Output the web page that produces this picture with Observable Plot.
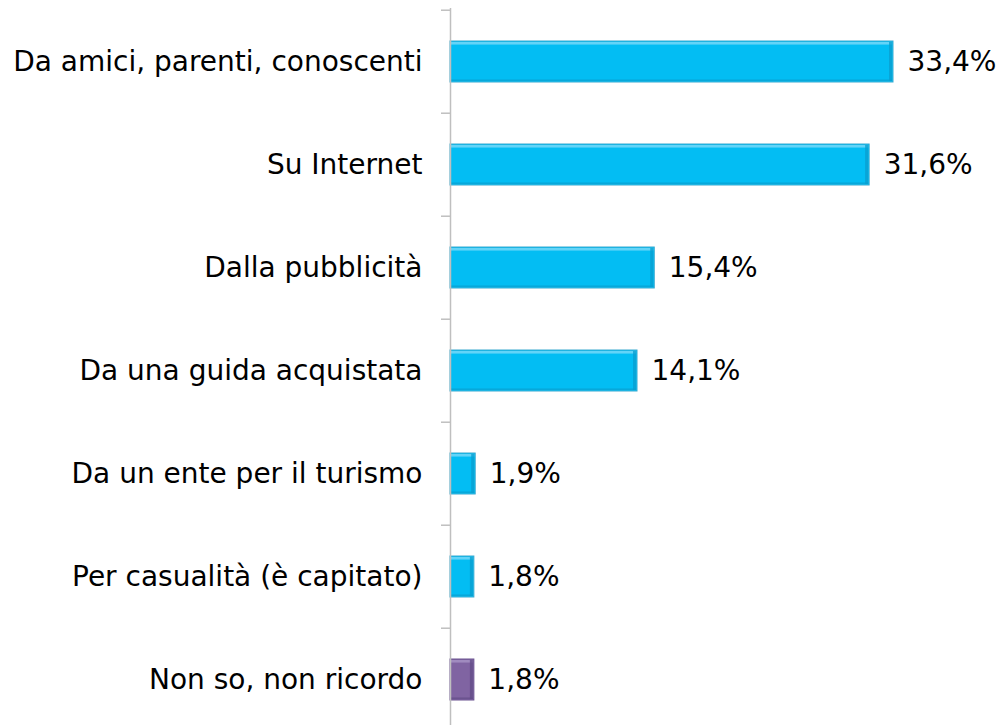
<!DOCTYPE html>
<html>
<head>
<meta charset="utf-8">
<script src="https://cdn.jsdelivr.net/npm/d3@7"></script>
<script src="https://cdn.jsdelivr.net/npm/@observablehq/plot@0.6"></script>
<style>
  html, body { margin: 0; padding: 0; background: #fff; overflow: hidden; }
</style>
</head>
<body>
<div id="chart"></div>
<script>
const categories = [
  "Da amici, parenti, conoscenti",
  "Su Internet",
  "Dalla pubblicità",
  "Da una guida acquistata",
  "Da un ente per il turismo",
  "Per casualità (è capitato)",
  "Non so, non ricordo"
];
const values = [33.4, 31.6, 15.4, 14.1, 1.9, 1.8, 1.8];
const groups = ["main", "main", "main", "main", "main", "main", "other"];

const data = categories.map((c, i) => ({category: c, value: values[i], group: groups[i]}));

const W = 1005, H = 733, mTop = 8, mLeft = 450, mRight = 112;
const step = (H - mTop) / categories.length;
const bw = step * 0.4;
const fmt = v => d3.format(".1f")(v).replace(".", ",") + "%";

const light = {main: "#63D4F8", other: "#A08BBF"};
const dark = {main: "#0A9FCF", other: "#634C88"};

const chart = Plot.plot({
  width: W,
  height: H,
  marginTop: mTop,
  marginBottom: 0,
  marginLeft: mLeft,
  marginRight: mRight,
  style: {fontFamily: "DejaVu Sans, Verdana, sans-serif", fontSize: "28px", color: "#000", background: "#fff"},
  x: {domain: [0, 33.4], axis: null},
  y: {domain: categories, paddingInner: 0.6, paddingOuter: 0.3, label: null},
  color: {domain: ["main", "other"], range: ["#03BDF3", "#8064A2"]},
  marks: [
    Plot.barX(data, {
      y: "category", x: "value", fill: "group",
      stroke: d => d.group === "main" ? "#3AAAD0" : "#6A5290",
      strokeWidth: 1
    }),
    // top highlight strip
    Plot.barX(data, {
      y: "category", x: "value",
      fill: d => light[d.group],
      insetTop: 1, insetLeft: 1, insetRight: 1, insetBottom: bw - 4
    }),
    // bottom shade strip
    Plot.barX(data, {
      y: "category", x: "value",
      fill: d => dark[d.group], fillOpacity: 0.7,
      insetTop: bw - 3, insetLeft: 1, insetRight: 1, insetBottom: 1
    }),
    // right shade strip
    Plot.barX(data, {
      y: "category", x1: "value", x2: "value",
      fill: d => dark[d.group], fillOpacity: 0.8,
      insetLeft: -4, insetRight: 1, insetTop: 1, insetBottom: 1
    }),
    Plot.ruleX([0], {stroke: "#BFBFBF", strokeWidth: 1.5}),
    Plot.ruleY(categories, {
      y: d => d, x1: 0, x2: 0, insetLeft: -9,
      dy: -step / 2, stroke: "#BFBFBF", strokeWidth: 1.5
    }),
    Plot.axisY({tickSize: 0, tickPadding: 28, fontSize: 28, fill: "#000"}),
    Plot.text(data, {
      y: "category", x: "value", text: d => fmt(d.value),
      dx: 14, textAnchor: "start", fontSize: 28, fill: "#000"
    })
  ]
});
document.getElementById("chart").appendChild(chart);
</script>
</body>
</html>
